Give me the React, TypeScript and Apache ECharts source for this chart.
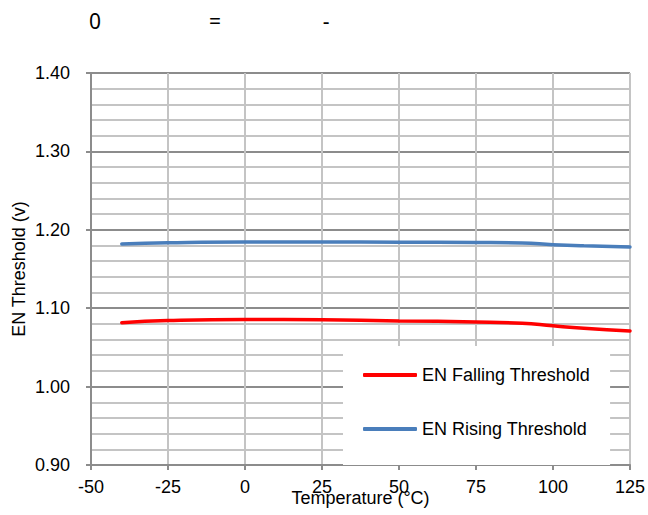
import React, { useEffect, useRef } from "react";
import * as echarts from "echarts";

const temps = [-40, -25, 0, 25, 50, 75, 90, 100, 110, 125];
const fallingThreshold = [1.0815, 1.0842, 1.0857, 1.0852, 1.0838, 1.0825, 1.0808, 1.0775, 1.0745, 1.071];
const risingThreshold = [1.182, 1.1835, 1.1845, 1.1845, 1.1842, 1.1838, 1.1832, 1.181, 1.1795, 1.178];
const seriesNames = ["EN Falling Threshold", "EN Rising Threshold"];
const titleParts = ["0", "=", "-"];
const xAxisName = "Temperature (°C)";
const yAxisName = "EN Threshold (v)";

export default function App() {
  const ref = useRef<HTMLDivElement>(null);
  useEffect(() => {
    if (!ref.current) return;
    const chart = echarts.init(ref.current, null, { renderer: "svg" });
    const font = "Liberation Sans, Arial, sans-serif";
    const titleX = [95, 215, 326];
    chart.setOption({
      animation: false,
      backgroundColor: "#fff",
      grid: { left: 91, width: 539, top: 73, height: 392, containLabel: false },
      graphic: titleParts.map((t, i) => ({
        type: "text",
        x: titleX[i],
        y: 21,
        style: {
          text: t,
          fontFamily: "Noto Sans",
          fontSize: 21,
          fill: "#000",
          align: "center",
          verticalAlign: "middle",
        },
      })),
      legend: {
        orient: "vertical",
        left: 343,
        top: 346,
        backgroundColor: "#fff",
        padding: [20, 20, 27, 20],
        itemGap: 36,
        itemWidth: 54,
        itemHeight: 4,
        icon: "roundRect",
        textStyle: { fontFamily: font, fontSize: 18, color: "#000" },
        data: seriesNames,
        z: 5,
      },
      xAxis: {
        type: "value",
        min: -50,
        max: 125,
        interval: 25,
        name: xAxisName,
        nameLocation: "middle",
        nameGap: 24,
        nameMoveOverlap: false,
        nameTextStyle: { fontFamily: font, fontSize: 18, color: "#000" },
        axisLine: { show: true, onZero: false, lineStyle: { color: "#8c8c8c", width: 2 } },
        axisTick: { show: true, length: 5, lineStyle: { color: "#8c8c8c", width: 2 } },
        axisLabel: { fontFamily: font, fontSize: 18, color: "#000", margin: 13 },
        splitLine: { show: true, lineStyle: { color: "#c4c4c4", width: 2 } },
      },
      yAxis: {
        type: "value",
        min: 0.9,
        max: 1.4,
        interval: 0.1,
        name: yAxisName,
        nameLocation: "middle",
        nameGap: 63,
        nameMoveOverlap: false,
        nameTextStyle: { fontFamily: font, fontSize: 18, color: "#000" },
        axisLine: { show: true, onZero: false, lineStyle: { color: "#8c8c8c", width: 2 } },
        axisTick: { show: true, length: 5, lineStyle: { color: "#8c8c8c", width: 2 } },
        axisLabel: {
          fontFamily: font,
          fontSize: 18,
          color: "#000",
          margin: 21,
          formatter: (v: number) => v.toFixed(2),
        },
        splitLine: { show: true, lineStyle: { color: "#8c8c8c", width: 2 } },
        minorTick: { show: false, splitNumber: 5 },
        minorSplitLine: { show: true, lineStyle: { color: "#c4c4c4", width: 2 } },
      },
      series: [
        {
          name: seriesNames[0],
          type: "line",
          smooth: true,
          showSymbol: false,
          symbol: "none",
          data: temps.map((t, i) => [t, fallingThreshold[i]]),
          lineStyle: { color: "#ff0000", width: 3.5, cap: "round" },
          itemStyle: { color: "#ff0000" },
          z: 3,
        },
        {
          name: seriesNames[1],
          type: "line",
          smooth: true,
          showSymbol: false,
          symbol: "none",
          data: temps.map((t, i) => [t, risingThreshold[i]]),
          lineStyle: { color: "#4a7ebb", width: 3.5, cap: "round" },
          itemStyle: { color: "#4a7ebb" },
          z: 3,
        },
      ],
    });
    return () => chart.dispose();
  }, []);
  return (
    <div
      ref={ref}
      style={{ position: "fixed", left: 0, top: 0, width: 648, height: 515, background: "#fff" }}
    />
  );
}
